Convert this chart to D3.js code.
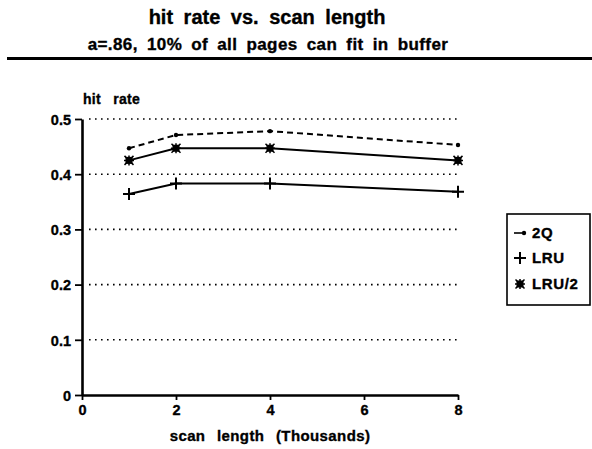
<!DOCTYPE html>
<html><head><meta charset="utf-8">
<script src="https://cdn.jsdelivr.net/npm/d3@7"></script>
<style>
body{margin:0;background:#fff;}
svg{display:block;font-family:"Liberation Sans",Arial,sans-serif;font-weight:bold;}
</style></head>
<body>
<svg id="c" width="592" height="449"></svg>
<script>
const title = "hit rate vs. scan length";
const subtitle = "a=.86, 10% of all pages can fit in buffer";
const xLabel = "scan length (Thousands)";
const yLabel = "hit rate";
const scanLengths = [1, 2, 4, 8];
const series2Q = [0.447, 0.471, 0.478, 0.453];
const seriesLRU = [0.364, 0.383, 0.383, 0.368];
const seriesLRU2 = [0.425, 0.447, 0.447, 0.425];
const seriesNames = ["2Q", "LRU", "LRU/2"];
const xTicks = [0, 2, 4, 6, 8];
const yTicks = [0, 0.1, 0.2, 0.3, 0.4, 0.5];

const svg = d3.select("#c");
const x = d3.scaleLinear().domain([0, 8]).range([82, 458]);
const y = d3.scaleLinear().domain([0, 0.5]).range([395, 119]);

const boldText = sel => sel.attr("stroke", "#000").attr("stroke-width", 0.35);

// titles
svg.append("text").attr("x", 267).attr("y", 24).attr("text-anchor", "middle")
  .attr("font-size", 20).attr("word-spacing", 5).call(boldText).text(title);
svg.append("text").attr("x", 268).attr("y", 50).attr("text-anchor", "middle")
  .attr("font-size", 17).attr("word-spacing", 4).attr("letter-spacing", 0.4).call(boldText).text(subtitle);
svg.append("line").attr("x1", 7).attr("x2", 592).attr("y1", 58.5).attr("y2", 58.5)
  .attr("stroke", "#000").attr("stroke-width", 3);

// gridlines
svg.append("g").selectAll("line").data(yTicks.filter(d => d > 0)).join("line")
  .attr("x1", x(0) + 7).attr("x2", x(8)).attr("y1", d => y(d)).attr("y2", d => y(d))
  .attr("stroke", "#000").attr("stroke-width", 1.6).attr("stroke-dasharray", "1.6,4.4");

// axes
const fmt = d => d === 0 ? "0" : d3.format(".1f")(d);
const gy = svg.append("g").attr("transform", `translate(${x(0)},0)`)
  .call(d3.axisLeft(y).tickValues(yTicks).tickFormat(fmt).tickSize(7).tickSizeOuter(0).tickPadding(4));
const gx = svg.append("g").attr("transform", `translate(0,${y(0)})`)
  .call(d3.axisBottom(x).tickValues(xTicks).tickSize(5).tickSizeOuter(0).tickPadding(5));
[gx, gy].forEach(g => {
  g.select(".domain").attr("stroke-width", 2.6);
  g.selectAll(".tick line").attr("stroke-width", 1.8);
  g.selectAll("text").attr("font-size", 14.5).attr("font-weight", "bold").attr("fill", "#000")
    .attr("font-family", "Liberation Sans, Arial, sans-serif").call(boldText);
});
gy.selectAll(".tick text").attr("dy", "0.36em");

svg.append("text").attr("x", 83).attr("y", 104).attr("font-size", 14).attr("word-spacing", 8)
  .attr("letter-spacing", 0.3).call(boldText).text(yLabel);
svg.append("text").attr("x", 270).attr("y", 441).attr("text-anchor", "middle").attr("font-size", 15)
  .attr("word-spacing", 7).attr("letter-spacing", 0.4).call(boldText).text(xLabel);

// lines
const line = d3.line().x(d => x(d[0])).y(d => y(d[1]));
const mk = vals => scanLengths.map((s, i) => [s, vals[i]]);
const data2Q = mk(series2Q), dataLRU = mk(seriesLRU), dataLRU2 = mk(seriesLRU2);

svg.append("path").datum(data2Q).attr("d", line).attr("fill", "none").attr("stroke", "#000")
  .attr("stroke-width", 2).attr("stroke-dasharray", "6,4");
svg.append("path").datum(dataLRU).attr("d", line).attr("fill", "none").attr("stroke", "#000").attr("stroke-width", 2);
svg.append("path").datum(dataLRU2).attr("d", line).attr("fill", "none").attr("stroke", "#000").attr("stroke-width", 2);

function dotMarker(g, cx, cy) {
  g.append("circle").attr("cx", cx).attr("cy", cy).attr("r", 2.2).attr("fill", "#000");
}
function plusMarker(g, cx, cy) {
  g.append("path").attr("transform", `translate(${cx},${cy})`)
    .attr("d", "M-6,0H6M0,-6V6").attr("stroke", "#000").attr("stroke-width", 2);
}
function starMarker(g, cx, cy) {
  g.append("rect").attr("x", cx - 3.5).attr("y", cy - 3.5).attr("width", 7).attr("height", 7).attr("fill", "#000");
  g.append("path").attr("transform", `translate(${cx},${cy})`)
    .attr("d", "M-4.5,-4.5L4.5,4.5M-4.5,4.5L4.5,-4.5M0,-5V5M-5,0H5").attr("stroke", "#000").attr("stroke-width", 1.5);
}
const gm = svg.append("g");
data2Q.forEach(d => dotMarker(gm, x(d[0]), y(d[1])));
dataLRU.forEach(d => plusMarker(gm, x(d[0]), y(d[1])));
dataLRU2.forEach(d => starMarker(gm, x(d[0]), y(d[1])));

// legend
const lg = svg.append("g");
lg.append("rect").attr("x", 507).attr("y", 214).attr("width", 83).attr("height", 91)
  .attr("fill", "none").attr("stroke", "#000").attr("stroke-width", 1.6);
const ly = [233, 258, 284];
lg.append("line").attr("x1", 514).attr("x2", 522).attr("y1", ly[0]).attr("y2", ly[0]).attr("stroke", "#000").attr("stroke-width", 1.6);
dotMarker(lg, 524, ly[0]);
plusMarker(lg, 520, ly[1]);
starMarker(lg, 520, ly[2]);
lg.selectAll("text").data(seriesNames).join("text")
  .attr("x", 532).attr("y", (d, i) => ly[i]).attr("dy", "0.36em").attr("font-size", 15)
  .attr("letter-spacing", 0.6).attr("stroke", "#000").attr("stroke-width", 0.35).text(d => d);
</script>
</body></html>
